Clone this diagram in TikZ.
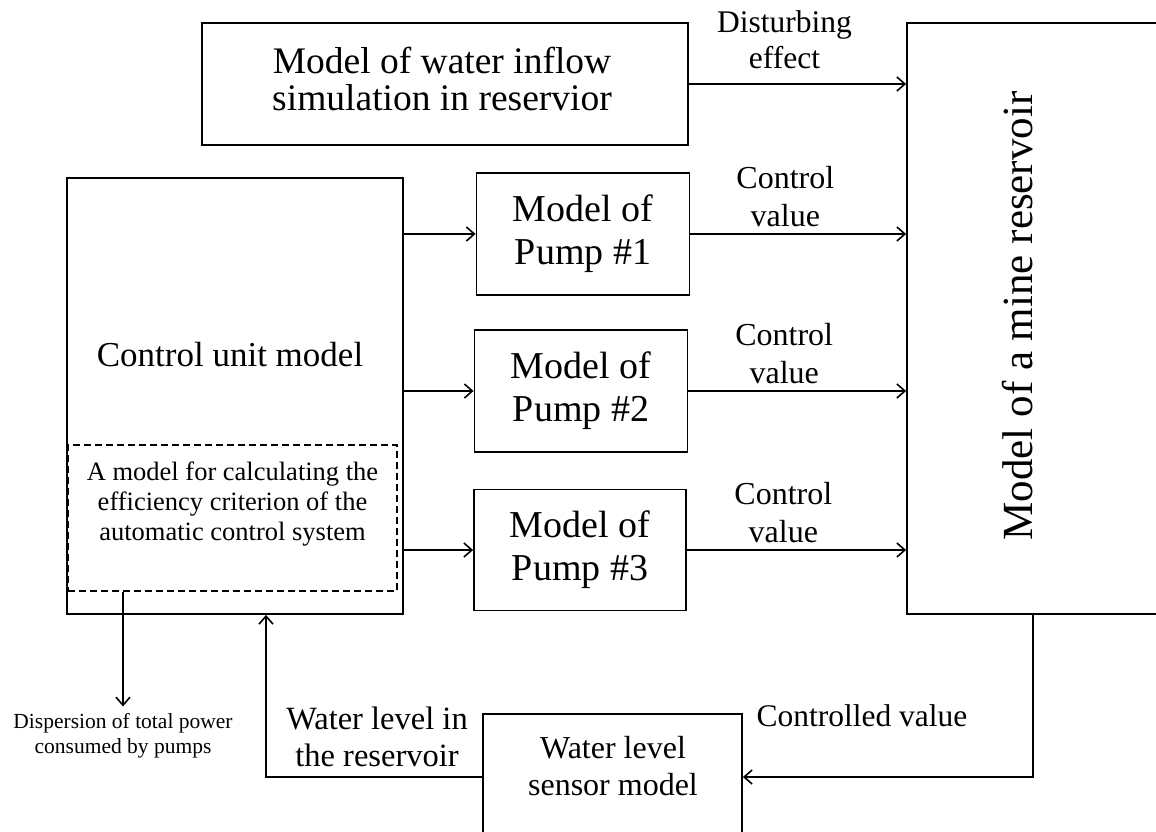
\documentclass[tikz,border=0pt]{standalone}
\usepackage{fontspec}
\setmainfont{Liberation Serif}
\usetikzlibrary{arrows.meta}

\begin{document}
\begin{tikzpicture}[x=1pt,y=-1pt,
	box/.style={draw,line width=1.8pt,inner sep=0pt,align=center},
	lbl/.style={inner sep=0pt,align=center},
	flow/.style={line width=1.8pt,-{Straight Barb[length=8pt,width=14pt,line width=1.6pt]}}]
	\useasboundingbox (0,0) rectangle (1156,832); % page size
	\clip (0,0) rectangle (1156,832);
	% blocks
	\node[box,minimum width=486pt,minimum height=122pt] (inflow) at (445,84) {};
	\node[lbl,font=\fontsize{37.5}{37}\selectfont] (inflowtxt) at (442,78.5) {Model of water inflow\\simulation in reservior};
	\node[box,minimum width=252pt,minimum height=591pt] (res) at (1033,318.5) {}; % runs off the right edge
	\node[lbl,rotate=90,font=\fontsize{43}{48}\selectfont] (restxt) at (1018,316) {Model of a mine reservoir};
	\node[box,minimum width=336pt,minimum height=436pt] (ctrl) at (235,396) {};
	\node[lbl,font=\fontsize{35}{40}\selectfont] (ctrltxt) at (230,355) {Control unit model};
	\node[box,dash pattern=on 7pt off 4pt,line width=1.2pt,minimum width=329pt,minimum height=146pt] (calc) at (232.5,518) {};
	\node[lbl,font=\fontsize{26.5}{30}\selectfont] (calctxt) at (232.5,504) {A model for calculating the\\efficiency criterion of the\\automatic control system};
	\node[box,minimum width=213pt,minimum height=122pt,font=\fontsize{38}{43}\selectfont] (pump1) at (583,234) {Model of\\Pump \#1};
	\node[box,minimum width=213pt,minimum height=122pt,font=\fontsize{38}{43}\selectfont] (pump2) at (581,391) {Model of\\Pump \#2};
	\node[box,minimum width=212pt,minimum height=121pt,font=\fontsize{38}{43}\selectfont] (pump3) at (580,550) {Model of\\Pump \#3};
	\node[box,minimum width=259pt,minimum height=126pt] (sensor) at (612.5,777) {}; % runs off the bottom edge
	\node[lbl,font=\fontsize{32}{37}\selectfont] (sensortxt) at (613,766) {Water level\\sensor model};
	% free labels
	\node[lbl,font=\fontsize{21.5}{25}\selectfont] (disp) at (123,736) {Dispersion of total power\\consumed by pumps};
	\node[lbl,font=\fontsize{32.5}{37}\selectfont] (lvl) at (377,737) {Water level in\\the reservoir};
	\node[lbl,font=\fontsize{31.5}{37}\selectfont] (cv) at (862,716) {Controlled value};
	% connectors
	\draw[flow] (inflow.east) -- (inflow.east -| res.west) node[lbl,pos=0.44,above=14pt,font=\fontsize{31.5}{36}\selectfont] (dist) {Disturbing\\effect};
	\draw[flow] (pump1.west -| ctrl.east) -- (pump1.west);
	\draw[flow] (pump2.west -| ctrl.east) -- (pump2.west);
	\draw[flow] (pump3.west -| ctrl.east) -- (pump3.west);
	\draw[flow] (pump1.east) -- (pump1.east -| res.west) node[lbl,pos=0.44,above=6pt,font=\fontsize{32}{38}\selectfont] (cv1) {Control\\value};
	\draw[flow] (pump2.east) -- (pump2.east -| res.west) node[lbl,pos=0.44,above=6pt,font=\fontsize{32}{38}\selectfont] (cv2) {Control\\value};
	\draw[flow] (pump3.east) -- (pump3.east -| res.west) node[lbl,pos=0.44,above=6pt,font=\fontsize{32}{38}\selectfont] (cv3) {Control\\value};
	\draw[flow,shorten >=7pt] (calc.south -| disp.north) -- (disp.north);
	\draw[flow] (res.south) |- (sensor.east);
	\draw[flow] (sensor.west) -| ([xshift=31pt]ctrl.south);
\end{tikzpicture}
\end{document}
